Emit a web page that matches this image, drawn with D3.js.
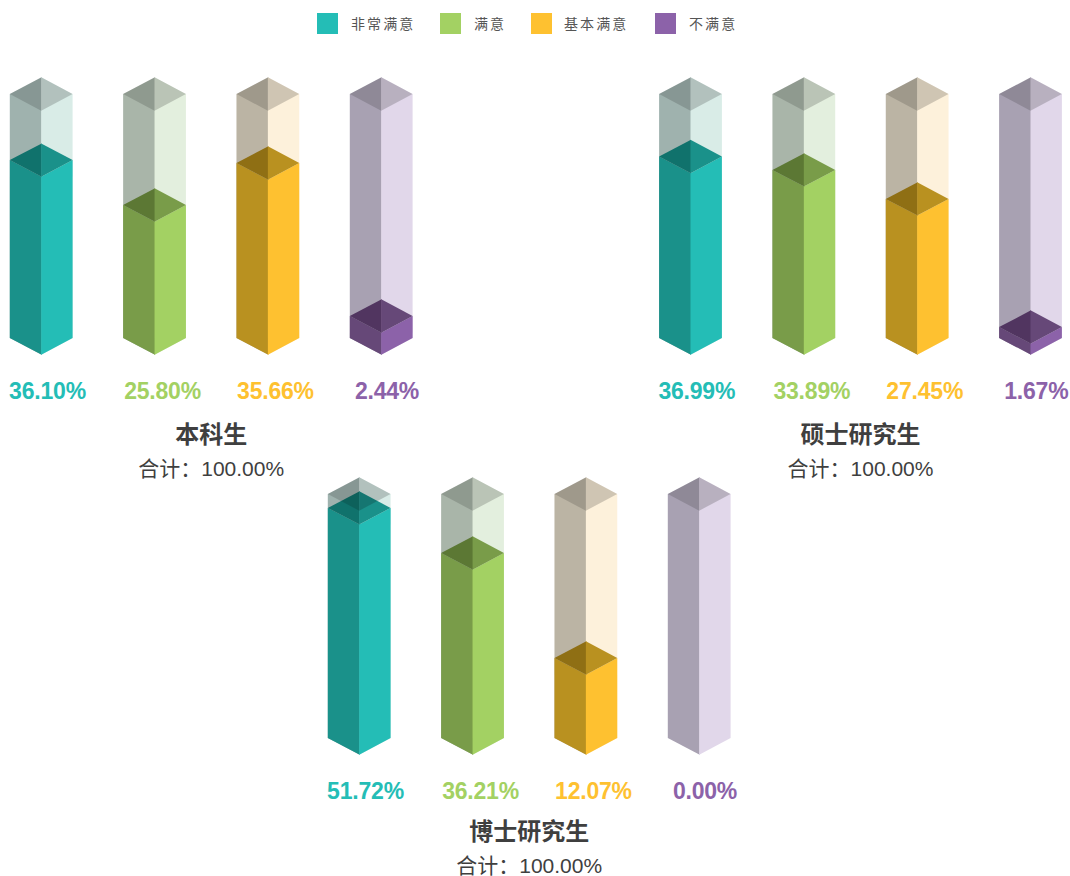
<!DOCTYPE html>
<html>
<head>
<meta charset="utf-8">
<style>
  html, body { margin: 0; padding: 0; background: #fff; }
  svg { display: block; }
  text { font-family: "Liberation Sans", "Noto Sans CJK SC", sans-serif; }
</style>
<script src="https://cdn.jsdelivr.net/npm/d3@7/dist/d3.min.js"></script>
</head>
<body>
<svg width="1070" height="876"></svg>
<script>
// satisfaction levels
var levels = ["非常满意", "满意", "基本满意", "不满意"];

var groups = ["本科生", "硕士研究生", "博士研究生"];
var totals = ["100.00%", "100.00%", "100.00%"];

// percentages as printed under each column
var undergrad = [36.10, 25.80, 35.66, 2.44];
var master = [36.99, 33.89, 27.45, 1.67];
var doctor = [51.72, 36.21, 12.07, 0.00];

// fill height of each column, % of column height
// (the source does not scale these linearly with the printed number)
var undergradFill = [72.9, 54.5, 71.7, 9.0];
var masterFill = [74.4, 68.9, 57.0, 4.5];
var doctorFill = [94.3, 75.8, 32.8, 0];

var values = [undergrad, master, doctor];
var fills = [undergradFill, masterFill, doctorFill];

var colors = ["#24bdb6", "#a3d163", "#fec130", "#8c62a9"];
var darkColors = ["#1a918a", "#799c49", "#b99120", "#664878"];
var topLeftColors = ["#10726c", "#5c7834", "#8f6f14", "#513560"];
var trackRight = ["#d9ece7", "#e3efde", "#fdf1db", "#e1d7ea"];
var trackLeft = ["#9fb2ae", "#a9b5a9", "#bbb4a4", "#a8a1b2"];

var svg = d3.select("svg"),
    halfW = 31.4,
    depth = 16.7,
    seam = 0.5; // left faces run a bit under the right ones, hides the hairline

var textColor = "#3f3f3f";

// panel offsets
var panelX = [0, 649.3, 318],
    panelY = [0, 0, 400];

// label nudge per column, the source labels are not quite centred
var labelShift = [6.3, 8, 7.6, 5.8];

var xScale = d3.scalePoint().domain(levels).range([41.2, 381.2]);
var yScale = d3.scaleLinear().domain([0, 100]).range([338, 94]);

var line = d3.line();

function face(g, pts, color, opacity) {
   g.append("path")
      .attr("d", line(pts) + "Z")
      .attr("fill", color)
      .attr("fill-opacity", opacity == null ? 1 : opacity);
}

// one isometric column
function drawColumn(g, cx, fillPct, i) {
   var bottom = yScale(0), top = yScale(100), level = yScale(fillPct);

   // empty track, runs up to the back corner
   face(g, [[cx - halfW, top], [cx + seam, top - depth], [cx + seam, bottom + depth], [cx - halfW, bottom]], trackLeft[i]);
   face(g, [[cx, top - depth], [cx + halfW, top], [cx + halfW, bottom], [cx, bottom + depth]], trackRight[i]);

   // filled part
   if (fillPct > 0) {
      face(g, [[cx - halfW, level], [cx + seam, level + depth], [cx + seam, bottom + depth], [cx - halfW, bottom]], darkColors[i]);
      face(g, [[cx, level + depth], [cx + halfW, level], [cx + halfW, bottom], [cx, bottom + depth]], colors[i]);
      face(g, [[cx - halfW, level], [cx + seam, level - depth], [cx + seam, level + depth]], topLeftColors[i]);
      face(g, [[cx, level - depth], [cx + halfW, level], [cx, level + depth]], darkColors[i]);
   }

   // lid sits on top as a see-through shade
   face(g, [[cx - halfW, top], [cx, top - depth], [cx, top + depth]], "#000", 0.15);
   face(g, [[cx, top - depth], [cx + halfW, top], [cx, top + depth]], "#000", 0.18);
}

groups.forEach(function(name, p) {
   var g = svg.append("g")
      .attr("transform", "translate(" + panelX[p] + "," + panelY[p] + ")");

   levels.forEach(function(lv, i) {
      drawColumn(g, xScale(lv), fills[p][i], i);
   });

   g.selectAll(".pct")
      .data(values[p])
      .enter()
      .append("text")
      .attr("class", "pct")
      .attr("x", function(d, i) { return xScale(levels[i]) + labelShift[i]; })
      .attr("y", 399)
      .attr("text-anchor", "middle")
      .attr("font-size", "23px")
      .attr("letter-spacing", "-0.2px")
      .attr("font-weight", "bold")
      .attr("fill", function(d, i) { return colors[i]; })
      .text(function(d) { return d.toFixed(2) + "%"; });

   var mid = (xScale(levels[0]) + xScale(levels[3])) / 2,
       shift = p == 2 ? -3 : 0;

   g.append("text")
      .attr("x", mid)
      .attr("y", 443 + shift)
      .attr("text-anchor", "middle")
      .attr("font-size", "24px")
      .attr("font-weight", "bold")
      .attr("fill", textColor)
      .text(name);

   g.append("text")
      .attr("x", mid)
      .attr("y", 476 + shift)
      .attr("text-anchor", "middle")
      .attr("font-size", "21px")
      .attr("fill", textColor)
      .text("合计\uFF1A" + totals[p]);
});

// legend
var legendX = [317, 440, 531, 655],
    legendTextX = [351, 474, 564, 689];

var legend = svg.selectAll(".legend")
   .data(levels)
   .enter()
   .append("g")
   .attr("class", "legend");

legend.append("rect")
   .attr("x", function(d, i) { return legendX[i]; })
   .attr("y", 13)
   .attr("width", 21)
   .attr("height", 21)
   .attr("fill", function(d, i) { return colors[i]; });

legend.append("text")
   .attr("x", function(d, i) { return legendTextX[i]; })
   .attr("y", 29)
   .attr("font-size", "14px")
   .attr("letter-spacing", "2.1px")
   .attr("fill", "#555")
   .text(function(d) { return d; });
</script>
</body>
</html>
